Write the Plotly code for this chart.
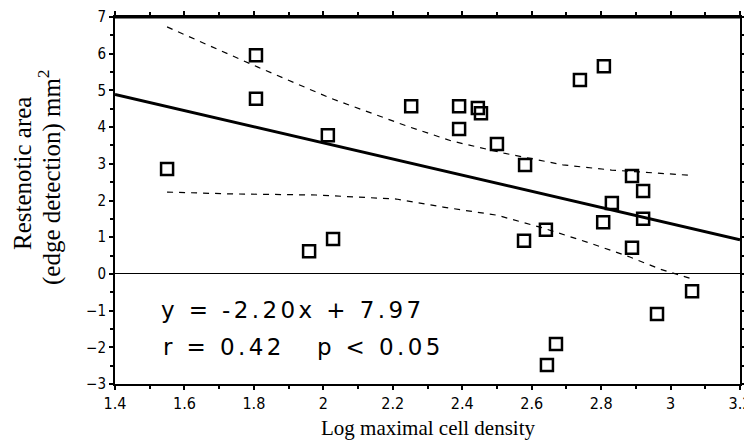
import plotly.graph_objects as go

# Observed points (Log maximal cell density, restenotic area)
x_vals = [1.55, 1.806, 1.806, 2.013, 2.253, 1.959, 2.028, 2.391, 2.445, 2.454,
          2.391, 2.50, 2.581, 2.739, 2.808, 2.889, 2.921, 2.831, 2.806, 2.921,
          2.641, 2.578, 2.889, 3.062, 2.961, 2.670, 2.644]
y_vals = [2.86, 5.96, 4.77, 3.78, 4.57, 0.62, 0.95, 4.57, 4.52, 4.38,
          3.95, 3.54, 2.97, 5.28, 5.66, 2.67, 2.26, 1.93, 1.41, 1.50,
          1.20, 0.90, 0.71, -0.47, -1.09, -1.91, -2.48]

# Regression line (from the stated equation)
slope = -2.20
intercept = 7.97
fit_x = [1.4, 3.2]

# Confidence bands
upper_x = [1.55, 1.81, 2.02, 2.24, 2.37, 2.52, 2.69, 2.83, 3.05]
upper_y = [6.73, 5.64, 4.79, 4.03, 3.62, 3.29, 2.97, 2.83, 2.69]
lower_x = [1.55, 1.73, 1.98, 2.21, 2.345, 2.50, 2.633, 2.768, 2.883, 2.97, 3.06]
lower_y = [2.23, 2.18, 2.15, 2.04, 1.82, 1.60, 1.25, 0.84, 0.46, 0.13, -0.13]

x_ticks = [1.4, 1.6, 1.8, 2.0, 2.2, 2.4, 2.6, 2.8, 3.0, 3.2]
x_tick_text = ["1.4", "1.6", "1.8", "2", "2.2", "2.4", "2.6", "2.8", "3", "3.2"]
y_ticks = [-3, -2, -1, 0, 1, 2, 3, 4, 5, 6, 7]

# The page body has an 8px default margin; size the figure to fill the rest.
OFF = 8
W, H = 752 - OFF, 446 - OFF
PL, PR, PT, PB = 115, 740, 17, 384          # plot area in page pixels
ML, MR, MT, MB = PL - OFF, 752 - PR, PT - OFF, 446 - PB
PW, PH = PR - PL, PB - PT


def px(xp):
    return (xp - PL) / PW


def py(yp):
    return 1 - (yp - PT) / PH


fig = go.Figure()
fig.add_trace(go.Scatter(x=upper_x, y=upper_y, mode="lines",
                         line=dict(color="black", width=1.2, dash="6px,6px"), hoverinfo="skip"))
fig.add_trace(go.Scatter(x=lower_x, y=lower_y, mode="lines",
                         line=dict(color="black", width=1.2, dash="6px,6px"), hoverinfo="skip"))
fig.add_trace(go.Scatter(x=fit_x, y=[slope * v + intercept for v in fit_x], mode="lines",
                         line=dict(color="black", width=3), hoverinfo="skip"))
fig.add_trace(go.Scatter(x=x_vals, y=y_vals, mode="markers",
                         marker=dict(symbol="square-open", size=12, color="black",
                                     line=dict(width=2.5, color="black"))))

ann_font = dict(family="DejaVu Sans", size=23, color="black")
fig.add_annotation(x=px(159), y=py(310), xref="paper", yref="paper",
                   xanchor="left", yanchor="middle",
                   text='<span style="letter-spacing:3.4px">y = -2.20x + 7.97</span>',
                   showarrow=False, font=ann_font)
fig.add_annotation(x=px(161), y=py(347), xref="paper", yref="paper",
                   xanchor="left", yanchor="middle",
                   text='<span style="letter-spacing:3.4px">r = 0.42   p < 0.05</span>',
                   showarrow=False, font=ann_font)

title_font = dict(family="Liberation Serif", size=25, color="black")
fig.add_annotation(x=px(22), y=py(174), xref="paper", yref="paper",
                   xanchor="center", yanchor="middle", textangle=-90,
                   text="Restenotic area", showarrow=False, font=title_font)
fig.add_annotation(x=px(49), y=py(177), xref="paper", yref="paper",
                   xanchor="center", yanchor="middle", textangle=-90,
                   text="(edge detection) mm<sup>2</sup>", showarrow=False, font=title_font)
fig.add_annotation(x=px(428), y=py(428), xref="paper", yref="paper",
                   xanchor="center", yanchor="middle",
                   text="Log maximal cell density", showarrow=False,
                   font=dict(family="Liberation Serif", size=21, color="black"))

fig.update_layout(
    width=W, height=H,
    margin=dict(l=ML, r=MR, t=MT, b=MB, autoexpand=False),
    paper_bgcolor="white", plot_bgcolor="white",
    showlegend=False,
    xaxis=dict(range=[1.4, 3.2], tickvals=x_ticks, ticktext=x_tick_text, automargin=False,
               ticklabeloverflow="allow",
               showline=True, linecolor="black", linewidth=2, mirror="allticks",
               ticks="outside", ticklen=4, tickwidth=1.5, tickcolor="black",
               minor=dict(dtick=0.1, tick0=1.4, ticks="outside", ticklen=3, tickcolor="black"),
               showgrid=False, zeroline=False,
               tickfont=dict(family="DejaVu Sans Condensed, DejaVu Sans", size=16, color="black")),
    yaxis=dict(range=[-3, 7], tickvals=y_ticks, automargin=False,
               showline=True, linecolor="black", linewidth=2, mirror="allticks",
               ticks="outside", ticklen=4, tickwidth=1.5, tickcolor="black",
               minor=dict(dtick=0.5, tick0=0, ticks="outside", ticklen=3, tickcolor="black"),
               showgrid=False, zeroline=True, zerolinecolor="black", zerolinewidth=1.2,
               tickfont=dict(family="DejaVu Sans Condensed, DejaVu Sans", size=15, color="black")),
)
# heavier top frame edge, as in the reference
fig.add_shape(type="line", xref="paper", yref="paper", x0=0, x1=1, y0=1, y1=1,
              line=dict(color="black", width=3))

fig.write_html("out.html")
